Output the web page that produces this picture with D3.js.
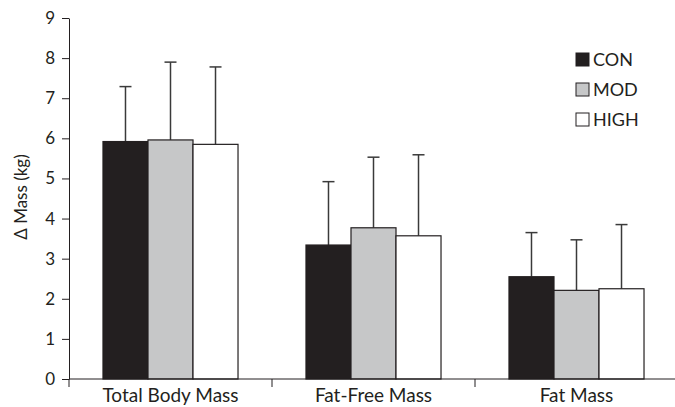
<!DOCTYPE html>
<html lang="en">
<head>
  <meta charset="utf-8">
  <style>
    body { margin: 0; background: #fff; }
    svg text { font-family: Lato, "Open Sans", sans-serif; fill: #231f20; }
  </style>
</head>
<body>
  <script src="https://cdn.jsdelivr.net/npm/d3@7"></script>
  <script>

  var categories = ["Total Body Mass", "Fat-Free Mass", "Fat Mass"];
  var groups = ["CON", "MOD", "HIGH"];
  var means = {
    CON:  [5.92, 3.34, 2.55],
    MOD:  [5.96, 3.77, 2.21],
    HIGH: [5.85, 3.57, 2.25]
  };
  var sds = {
    CON:  [1.37, 1.58, 1.10],
    MOD:  [1.94, 1.76, 1.26],
    HIGH: [1.93, 2.02, 1.60]
  };
  var yTicks = [0, 1, 2, 3, 4, 5, 6, 7, 8, 9];

  var colors = {CON: "#231f20", MOD: "#c6c7c8", HIGH: "#ffffff"};

  var margin = {top: 18, right: 0, bottom: 28, left: 69},
  width = 678 - margin.left,
  height = 379 - margin.top;

  var svg = d3.select("body").append("svg")
  .attr("width", 675)
  .attr("height", 407)
  .append("g")
  .attr("transform", "translate(" + margin.left + "," + margin.top + ")");

  var x = d3.scaleBand().domain(categories).range([0, width]).padding(0);
  var xSub = d3.scaleBand().domain(groups).range([0, x.bandwidth()])
  .paddingInner(0).paddingOuter(0.755);
  var y = d3.scaleLinear().domain([0, 9]).range([height, 0]);

  // y axis
  var yAxis = svg.append("g")
  .call(d3.axisLeft(y).tickValues(yTicks).tickSize(7).tickPadding(7).tickSizeOuter(0));
  yAxis.select(".domain").attr("stroke", "#231f20");
  yAxis.selectAll(".tick line").attr("stroke", "#231f20");
  yAxis.selectAll(".tick text").style("font-size", "17px").attr("fill", "#231f20");

  svg.append("text")
  .attr("transform", "rotate(-90)")
  .attr("x", -179)
  .attr("y", -42)
  .style("text-anchor", "middle")
  .style("font-size", "17px")
  .text("Δ Mass (kg)");

  // bars
  var data = [];
  categories.forEach(function(c, i) {
    groups.forEach(function(g) {
      data.push({cat: c, group: g, mean: means[g][i], sd: sds[g][i]});
    });
  });

  var bar = svg.selectAll(".bar")
  .data(data)
  .enter().append("g")
  .attr("class", "bar")
  .attr("transform", function(d) { return "translate(" + (x(d.cat) + xSub(d.group)) + ",0)"; });

  var bw = xSub.bandwidth();

  bar.append("line")
  .attr("x1", bw / 2).attr("x2", bw / 2)
  .attr("y1", function(d) { return y(d.mean); })
  .attr("y2", function(d) { return y(d.mean + d.sd); })
  .attr("stroke", "#3a3a3a").attr("stroke-width", 1.5);

  bar.append("line")
  .attr("x1", bw / 2 - 6).attr("x2", bw / 2 + 6)
  .attr("y1", function(d) { return y(d.mean + d.sd); })
  .attr("y2", function(d) { return y(d.mean + d.sd); })
  .attr("stroke", "#3a3a3a").attr("stroke-width", 1.5);

  bar.append("rect")
  .attr("x", 0)
  .attr("width", bw)
  .attr("y", function(d) { return y(d.mean); })
  .attr("height", function(d) { return height - y(d.mean); })
  .attr("fill", function(d) { return colors[d.group]; })
  .attr("stroke", "#231f20")
  .attr("stroke-width", 1.2);

  // x axis
  var xAxis = svg.append("g")
  .attr("transform", "translate(0," + height + ")");
  xAxis.append("line")
  .attr("x1", 0).attr("x2", width)
  .attr("stroke", "#231f20");
  xAxis.selectAll(".xtick")
  .data(categories.concat(["end"]))
  .enter().append("line")
  .attr("x1", function(d, i) { return i * x.step(); })
  .attr("x2", function(d, i) { return i * x.step(); })
  .attr("y1", 0).attr("y2", 8)
  .attr("stroke", "#231f20");
  xAxis.selectAll(".xlabel")
  .data(categories)
  .enter().append("text")
  .attr("x", function(d) { return x(d) + x.bandwidth() / 2; })
  .attr("y", 23)
  .style("text-anchor", "middle")
  .style("font-size", "19px")
  .text(function(d) { return d; });

  // legend
  var legend = svg.selectAll(".legend")
  .data(groups)
  .enter().append("g")
  .attr("class", "legend")
  .attr("transform", function(d, i) { return "translate(" + (576 - margin.left) + "," + (35 + i * 30) + ")"; });

  legend.append("rect")
  .attr("width", 13)
  .attr("height", 13)
  .attr("fill", function(d) { return colors[d]; })
  .attr("stroke", "#231f20");

  legend.append("text")
  .attr("x", 17)
  .attr("y", 7)
  .attr("dy", ".35em")
  .style("font-size", "18px")
  .text(function(d) { return d; });

</script>
</body>
</html>
